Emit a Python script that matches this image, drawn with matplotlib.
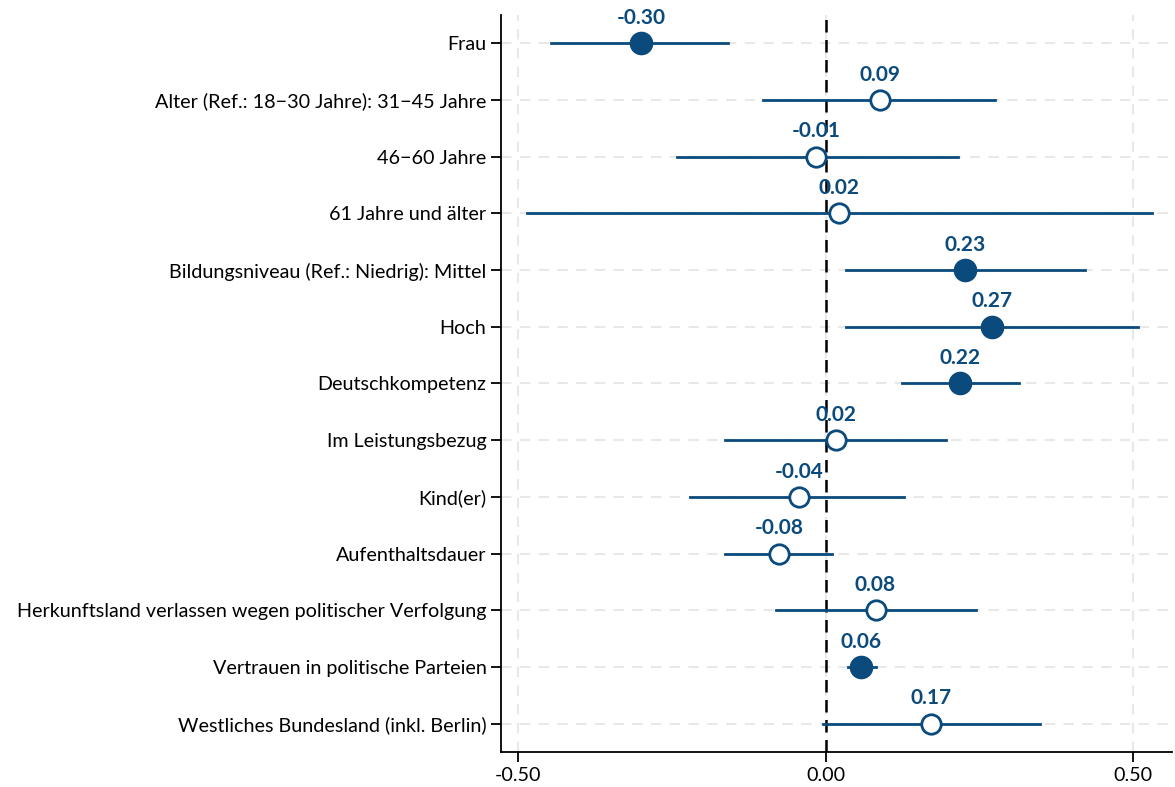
import numpy as np
import matplotlib
matplotlib.use("Agg")
import matplotlib.pyplot as plt

# Koeffizienten und Konfidenzintervalle
labels = ["Frau",
          "Alter (Ref.: 18\u221230 Jahre): 31\u221245 Jahre",
          "46\u221260 Jahre",
          "61 Jahre und älter",
          "Bildungsniveau (Ref.: Niedrig): Mittel",
          "Hoch",
          "Deutschkompetenz",
          "Im Leistungsbezug",
          "Kind(er)",
          "Aufenthaltsdauer",
          "Herkunftsland verlassen wegen politischer Verfolgung",
          "Vertrauen in politische Parteien",
          "Westliches Bundesland (inkl. Berlin)"]
coef = [-0.30, 0.088, -0.015, 0.021, 0.226, 0.270, 0.218, 0.016, -0.044, -0.076, 0.081, 0.057, 0.171]
lo = [-0.446, -0.102, -0.242, -0.485, 0.033, 0.033, 0.124, -0.164, -0.220, -0.164, -0.081, 0.036, -0.005]
hi = [-0.159, 0.276, 0.215, 0.530, 0.421, 0.507, 0.315, 0.195, 0.128, 0.011, 0.244, 0.081, 0.348]
signif = [True, False, False, False, True, True, True, False, False, False, False, True, False]
val_text = ["-0.30", "0.09", "-0.01", "0.02", "0.23", "0.27", "0.22", "0.02", "-0.04", "-0.08", "0.08", "0.06", "0.17"]

plt.rcParams['font.family'] = ['Lato', 'DejaVu Sans']
blue = '#0a4a7c'

fig = plt.figure(figsize=(11.75, 7.87), dpi=100)
ax = fig.add_axes([0.4264, 0.0445, 0.5710, 0.9365])

y = np.arange(len(labels))
ax.grid(True, color='#e8e8e8', linestyle=(0, (5, 4)), linewidth=1.5)
ax.set_axisbelow(True)
ax.axvline(0, color='black', linestyle=(0, (5, 3)), linewidth=1.8, zorder=2)

for i in range(len(labels)):
    ax.plot([lo[i], hi[i]], [y[i], y[i]], color=blue, lw=2, zorder=3)
    ax.plot(coef[i], y[i], 'o', ms=15 if signif[i] else 14,
            mfc=blue if signif[i] else 'white', mec=blue, mew=2, zorder=4)
    ax.annotate(val_text[i], (coef[i], y[i]), xytext=(0, 11), textcoords='offset points',
                ha='center', va='bottom', color=blue, fontsize=15, fontweight='bold', zorder=5)

ax.set_yticks(y)
ax.set_yticklabels(labels, fontsize=14.2)
ax.set_ylim(len(labels) - 0.5, -0.5)
ax.set_xlim(-0.528, 0.563)
ax.set_xticks([-0.5, 0, 0.5])
ax.set_xticklabels(["-0.50", "0.00", "0.50"], fontsize=14.2)
ax.tick_params(axis='both', length=7, width=1.3, color='black')
for s in ['top', 'right']:
    ax.spines[s].set_visible(False)
for s in ['left', 'bottom']:
    ax.spines[s].set_linewidth(1.3)

fig.savefig('out.png', dpi=100)
